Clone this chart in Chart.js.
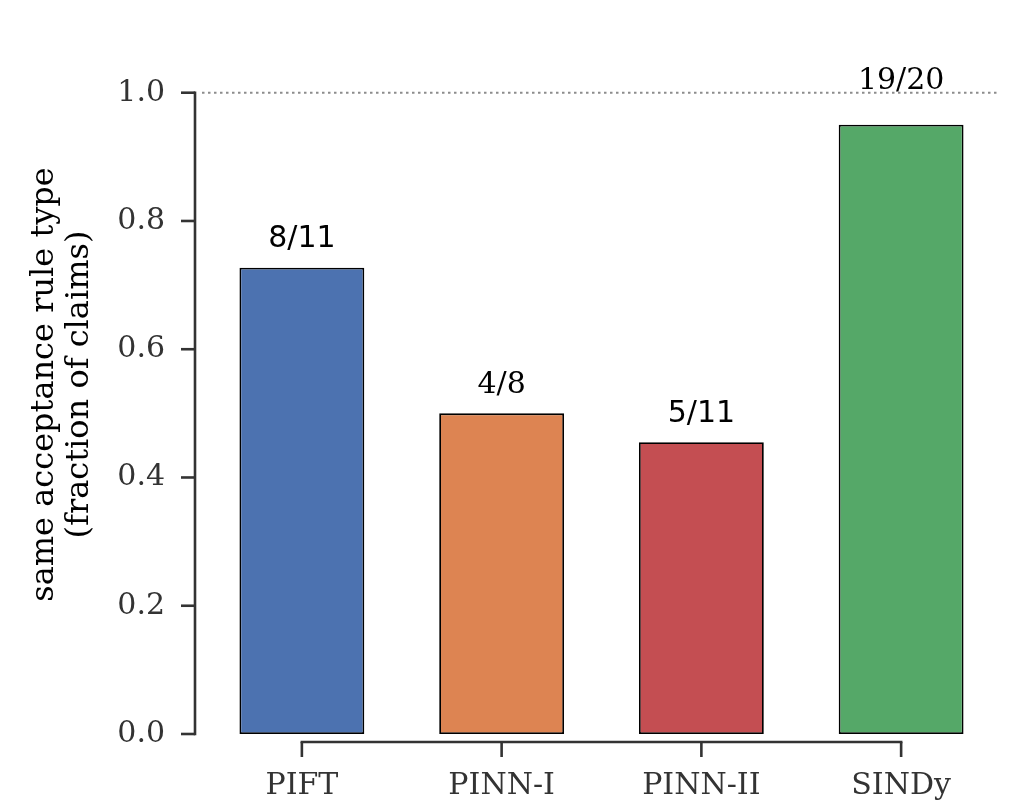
<!DOCTYPE html>
<html><head><meta charset="utf-8">
<script src="https://cdn.jsdelivr.net/npm/chart.js@4.4.1/dist/chart.umd.min.js"></script>
<style>html,body{margin:0;padding:0;background:#fff}</style>
</head><body>
<canvas id="c" width="1028" height="804"></canvas>
<script>
const categories = ['PIFT', 'PINN-I', 'PINN-II', 'SINDy'];
const fractions = [0.727, 0.500, 0.455, 0.950];
const barLabels = ['8/11', '4/8', '5/11', '19/20'];
const yTicks = [0.0, 0.2, 0.4, 0.6, 0.8, 1.0];
const referenceValue = 1.0;

const barColors = ['#4C72B0', '#DD8452', '#C44E52', '#55A868'];
const labelFonts = ['DejaVu Sans', 'DejaVu Serif', 'DejaVu Sans', 'DejaVu Serif'];
const SERIF = '"DejaVu Serif", serif';
const AXIS = '#333333';
const FS = 30;

const decor = {
  id: 'decor',
  beforeDatasetsDraw(chart) {
    const {ctx, chartArea, scales} = chart;
    const y = scales.y.getPixelForValue(referenceValue);
    ctx.save();
    ctx.strokeStyle = '#8c8c8c';
    ctx.lineWidth = 2;
    ctx.setLineDash([2.5, 3.5]);
    ctx.beginPath();
    ctx.moveTo(chartArea.left, y);
    ctx.lineTo(chartArea.right - 2, y);
    ctx.stroke();
    ctx.restore();
  },
  afterDatasetsDraw(chart) {
    const {ctx, scales} = chart;
    const meta = chart.getDatasetMeta(0);
    ctx.save();
    ctx.fillStyle = '#000';
    ctx.textAlign = 'center';
    ctx.textBaseline = 'alphabetic';
    meta.data.forEach((bar, i) => {
      const v = fractions[i];
      const lv = v + 0.032 > 0.97 ? 1.006 : v + 0.032;
      ctx.font = FS + 'px "' + labelFonts[i] + '"';
      ctx.fillText(barLabels[i], bar.x, scales.y.getPixelForValue(lv));
    });
    ctx.restore();
  },
  afterDraw(chart) {
    const {ctx, chartArea, scales} = chart;
    const xs = scales.x, ys = scales.y;
    ctx.save();
    ctx.strokeStyle = AXIS;
    ctx.lineWidth = 2.6;
    ctx.lineCap = 'butt';
    const sx = chartArea.left - 7;
    const y0 = ys.getPixelForValue(yTicks[0]);
    const y1 = ys.getPixelForValue(yTicks[yTicks.length - 1]);
    ctx.beginPath();
    ctx.moveTo(sx, y0 + 1.3);
    ctx.lineTo(sx, y1 - 1.3);
    ctx.stroke();
    yTicks.forEach(v => {
      const p = ys.getPixelForValue(v);
      ctx.beginPath();
      ctx.moveTo(sx - 14, p);
      ctx.lineTo(sx, p);
      ctx.stroke();
    });
    const sy = chartArea.bottom + 8;
    const xa = xs.getPixelForValue(0);
    const xb = xs.getPixelForValue(categories.length - 1);
    ctx.beginPath();
    ctx.moveTo(xa - 1.3, sy);
    ctx.lineTo(xb + 1.3, sy);
    ctx.stroke();
    categories.forEach((c, i) => {
      const p = xs.getPixelForValue(i);
      ctx.beginPath();
      ctx.moveTo(p, sy);
      ctx.lineTo(p, sy + 15);
      ctx.stroke();
    });
    ctx.restore();
  }
};

new Chart(document.getElementById('c'), {
  type: 'bar',
  data: {
    labels: categories,
    datasets: [{
      data: fractions,
      backgroundColor: barColors,
      borderColor: '#000',
      borderWidth: 1.8,
      borderSkipped: false,
      barPercentage: 0.625,
      categoryPercentage: 1.0
    }]
  },
  options: {
    responsive: false,
    devicePixelRatio: 1,
    animation: false,
    layout: {padding: {top: 35, right: 27, bottom: 0, left: 0}},
    plugins: {legend: {display: false}, tooltip: {enabled: false}},
    scales: {
      x: {
        grid: {display: false, drawTicks: false},
        border: {display: false},
        ticks: {color: AXIS, font: {family: SERIF, size: FS}, padding: 34, maxRotation: 0},
        afterFit(s) { s.height = 70; s.paddingLeft = 0; s.paddingRight = 0; }
      },
      y: {
        min: 0,
        max: 1.09,
        grid: {display: false, drawTicks: false},
        border: {display: false},
        afterBuildTicks(s) { s.ticks = yTicks.map(v => ({value: v})); },
        ticks: {color: AXIS, font: {family: SERIF, size: FS}, padding: 37,
                callback: v => Number(v).toFixed(1)},
        title: {display: true, text: ['same acceptance rule type', '(fraction of claims)'],
                color: '#000', font: {family: SERIF, size: 32, lineHeight: 1.1}, padding: {top: 27, bottom: 0}},
        afterFit(s) { s.width = 202; s.paddingTop = 0; s.paddingBottom = 0; }
      }
    }
  },
  plugins: [decor]
});
</script>
</body></html>
